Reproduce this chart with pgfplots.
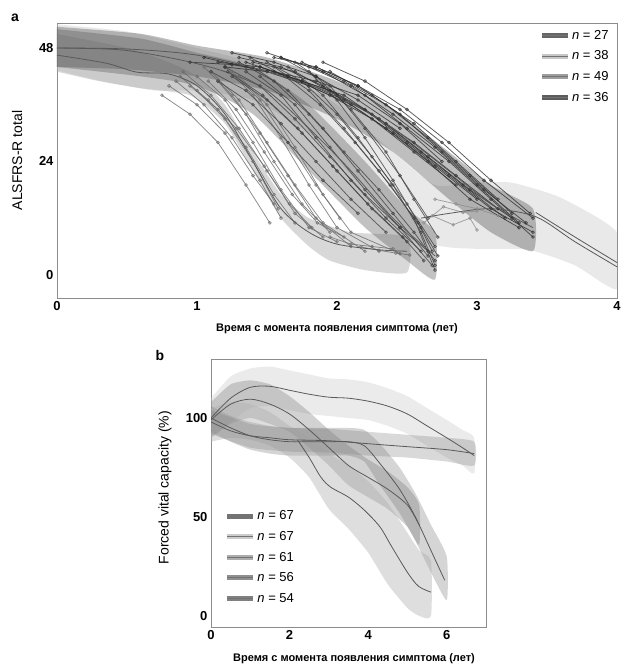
\documentclass[border=0pt]{standalone}
\usepackage{fontspec}
\setmainfont{Liberation Sans}
\usepackage{pgfplots}
\pgfplotsset{compat=1.18}

% group tones (grey scan)
\definecolor{g27}{gray}{0.40}
\definecolor{g38}{gray}{0.78}
\definecolor{g49}{gray}{0.62}
\definecolor{g36}{gray}{0.36}
\definecolor{t27}{gray}{0.25}
\definecolor{t49}{gray}{0.42}
\definecolor{t36}{gray}{0.18}
\definecolor{b67a}{gray}{0.45}
\definecolor{b67b}{gray}{0.80}
\definecolor{b61}{gray}{0.68}
\definecolor{b56}{gray}{0.56}
\definecolor{b54}{gray}{0.50}

\pgfplotsset{
  traj/.style={forget plot, line width=0.75pt, mark=o, mark size=1.4pt, opacity=0.8},
  band/.style={forget plot, draw=none, fill opacity=0.4, smooth, tension=0.35},
  mean/.style={forget plot, smooth, line width=0.8pt, color=black!65},
  panel/.style={
    scale only axis, axis line style={black!45, line width=0.6pt},
    major tick length=0pt, clip=true,
    /pgf/number format/assume math mode=true,
    tick label style={font=\bfseries\fontsize{13}{13}\selectfont},
    label style={font=\fontsize{14}{14}\selectfont},
    legend cell align=left,
    legend image code/.code={
      \draw[##1, line width=5pt] (0pt,0pt) -- (26pt,0pt);
      \draw[black!55, line width=0.6pt] (0pt,0pt) -- (26pt,0pt);},
  },
}

\begin{document}
\begin{tikzpicture}[x=1pt,y=1pt]
\useasboundingbox (0,0) rectangle (624,665);

% ---------------- panel a ----------------
\begin{axis}[panel,
  at={(57pt,367pt)}, anchor=south west,
  width=560pt, height=275pt,
  xmin=0, xmax=4, ymin=-4.9, ymax=53.3,
  xtick={0,1,2,3,4}, ytick={0,24,48},
  ylabel={ALSFRS-R total},
  ylabel style={at={(axis description cs:-0.071,0.5)}, anchor=center},
  xlabel={\bfseries\fontsize{11}{11}\selectfont Время с момента появления симптома (лет)},
  xlabel style={at={(axis description cs:0.5,-0.08)}, anchor=north},
  legend style={at={(0.988,0.98)}, anchor=north east, draw=none, fill=none,
    font=\fontsize{13}{13}\selectfont, row sep=7pt, inner sep=0pt,
    nodes={inner sep=1.5pt}},
]
% bands
\addplot[band, fill=g38] coordinates {(0,53)(0.5,51.5)(1.0,48)(1.5,44)(2.0,36)(2.4,26)(2.7,19)(3.0,19.5)(3.25,19.5)(3.6,16.3)(4.0,9)
  (4.0,-3)(3.7,2)(3.37,5.3)(3.0,5.5)(2.78,5.9)(2.5,8)(2.2,18)(1.8,30)(1.4,37)(1.0,39)(0.7,39)(0.35,40.8)(0,43.3)} -- cycle;
\addplot[band, fill=g49] coordinates {(0,51)(0.5,48)(0.8,45)(1.0,42)(1.2,36)(1.4,26)(1.6,17)(1.8,12)(2.1,9)(2.5,8)
  (2.5,0.5)(2.2,1)(1.95,3)(1.8,6)(1.6,12)(1.4,22)(1.2,32)(0.95,38)(0.6,39.5)(0.3,41)(0,43)} -- cycle;
\addplot[band, fill=g27] coordinates {(0,52)(0.6,50)(1.0,47)(1.4,44)(1.8,36)(2.2,24)(2.5,14)(2.7,9)
  (2.7,-1)(2.5,3)(2.2,10)(1.8,22)(1.4,34)(1.0,40)(0.6,42)(0,44)} -- cycle;
\addplot[band, fill=g36] coordinates {(0,52.5)(0.6,51)(1.0,48.5)(1.5,46)(2.0,41)(2.4,35)(2.8,26)(3.1,19)(3.4,14)
  (3.4,5)(3.1,9)(2.8,16)(2.4,26)(2.0,33)(1.5,39)(1.0,42)(0.5,43.5)(0,44)} -- cycle;

% individual trajectories, fast group (n = 49)
\addplot[traj, color=t49] coordinates {(0.75,38)(0.95,34)(1.15,28)(1.35,19)(1.52,11)};
\addplot[traj, color=t49] coordinates {(0.85,41)(1.05,36)(1.25,29)(1.45,20)(1.6,12)};
\addplot[traj, color=t49] coordinates {(0.9,43)(1.1,38)(1.3,31)(1.5,22)(1.7,13)(1.9,8)};
\addplot[traj, color=t49] coordinates {(1.0,42)(1.2,37)(1.4,28)(1.6,18)(1.8,10)(2.0,7)};
\addplot[traj, color=t49] coordinates {(0.8,40)(1.0,36)(1.2,30)(1.4,21)(1.55,15)};
\addplot[traj, color=t49] coordinates {(1.05,44)(1.25,38)(1.45,30)(1.65,21)(1.85,12)(2.1,6)};
\addplot[traj, color=t49] coordinates {(0.95,40)(1.15,35)(1.35,27)(1.55,17)(1.7,11)};
\addplot[traj, color=t49] coordinates {(1.1,43)(1.3,37)(1.5,28)(1.7,19)(1.9,11)(2.2,5)};
\addplot[traj, color=t49] coordinates {(1.2,44)(1.4,38)(1.6,29)(1.8,19)(2.0,10)(2.3,5)};
\addplot[traj, color=t49] coordinates {(1.0,39)(1.2,33)(1.4,24)(1.58,14)};
\addplot[traj, color=t49] coordinates {(1.3,42)(1.5,36)(1.7,27)(1.9,17)(2.1,9)(2.45,4.5)};
\addplot[traj, color=t49] coordinates {(1.15,41)(1.35,34)(1.55,24)(1.75,15)(1.95,9)};
\addplot[traj, color=t49] coordinates {(0.88,42)(1.08,37)(1.28,31)(1.48,23)(1.66,15)(1.82,10)};
\addplot[traj, color=t49] coordinates {(1.08,41)(1.28,35)(1.48,26)(1.68,17)(1.86,11)(2.05,8)};
\addplot[traj, color=t49] coordinates {(1.25,43)(1.45,37)(1.65,28)(1.85,19)(2.02,12)};
\addplot[traj, color=t49] coordinates {(2.17,5.9)(2.3,5.2)(2.42,4.6)(2.52,4.2)};
\addplot[traj, color=t49] coordinates {(1.95,8)(2.1,6.5)(2.25,6)(2.4,5.5)};

% group n = 27
\addplot[traj, color=t27] coordinates {(1.1,43)(1.35,39)(1.6,32)(1.85,24)(2.1,16)(2.35,9)};
\addplot[traj, color=t27] coordinates {(1.2,44)(1.45,40)(1.7,33)(1.95,25)(2.2,17)(2.45,10)(2.65,5)};
\addplot[traj, color=t27] coordinates {(1.3,45)(1.55,41)(1.8,34)(2.05,26)(2.3,18)(2.55,9)(2.7,3)};
\addplot[traj, color=t27] coordinates {(1.4,44)(1.65,39)(1.9,31)(2.15,22)(2.4,13)(2.65,4)};
\addplot[traj, color=t27] coordinates {(1.25,42)(1.5,37)(1.75,30)(2.0,22)(2.25,14)(2.5,7)};
\addplot[traj, color=t27] coordinates {(1.5,45)(1.75,41)(2.0,34)(2.25,25)(2.5,15)(2.7,6)};
\addplot[traj, color=t27] coordinates {(1.35,43)(1.6,38)(1.85,29)(2.1,20)(2.35,12)(2.6,5)};
\addplot[traj, color=t27] coordinates {(1.6,46)(1.85,42)(2.1,35)(2.35,26)(2.55,16)(2.72,8)};
\addplot[traj, color=t27] coordinates {(1.15,41)(1.4,36)(1.65,28)(1.9,20)(2.15,13)};
\addplot[traj, color=t27] coordinates {(1.45,42)(1.7,36)(1.95,27)(2.2,18)(2.45,10)(2.68,2)};
\addplot[traj, color=t27] coordinates {(1.55,44)(1.8,39)(2.05,31)(2.3,22)(2.55,12)(2.7,1)};
\addplot[traj, color=t27] coordinates {(1.7,45)(1.95,40)(2.2,31)(2.45,21)(2.65,12)};
\addplot[traj, color=t27] coordinates {(1.22,43)(1.47,38)(1.72,31)(1.97,23)(2.22,15)(2.47,8)(2.62,3)};
\addplot[traj, color=t27] coordinates {(1.38,46)(1.63,42)(1.88,36)(2.13,28)(2.38,19)(2.6,10)(2.72,4)};
\addplot[traj, color=t27] coordinates {(1.65,44)(1.9,38)(2.15,29)(2.4,19)(2.6,9)(2.7,2)};
\addplot[traj, color=t27] coordinates {(1.8,43)(2.0,37)(2.2,29)(2.4,20)(2.58,11)(2.68,5)};

% group n = 36
\addplot[traj, color=t36] coordinates {(1.3,46)(1.6,44)(1.9,40)(2.2,35)(2.5,28)(2.8,21)(3.1,14)(3.4,9)};
\addplot[traj, color=t36] coordinates {(1.4,45)(1.7,43)(2.0,38)(2.3,33)(2.6,26)(2.9,19)(3.2,12)};
\addplot[traj, color=t36] coordinates {(1.5,47)(1.8,44)(2.1,40)(2.4,34)(2.7,27)(3.0,19)(3.3,11)};
\addplot[traj, color=t36] coordinates {(1.2,44)(1.5,43)(1.8,40)(2.1,36)(2.4,30)(2.7,23)(3.0,16)};
\addplot[traj, color=t36] coordinates {(1.6,46)(1.9,43)(2.2,38)(2.5,31)(2.8,24)(3.1,16)(3.4,8)};
\addplot[traj, color=t36] coordinates {(1.35,45)(1.65,42)(1.95,38)(2.25,33)(2.55,26)(2.85,19)};
\addplot[traj, color=t36] coordinates {(1.75,45)(2.05,41)(2.35,36)(2.65,29)(2.95,21)(3.25,13)};
\addplot[traj, color=t36] coordinates {(1.45,44)(1.75,41)(2.05,37)(2.35,31)(2.65,24)(2.95,16)(3.3,10)};
\addplot[traj, color=t36] coordinates {(1.85,44)(2.15,40)(2.45,34)(2.75,26)(3.05,18)(3.35,11)};
\addplot[traj, color=t36] coordinates {(1.55,46)(1.85,44)(2.15,40)(2.45,35)(2.75,28)(3.05,20)(3.4,12)};
\addplot[traj, color=t36] coordinates {(1.25,47)(1.55,45)(1.85,42)(2.15,37)(2.45,31)};
\addplot[traj, color=t36] coordinates {(1.95,43)(2.25,38)(2.55,32)(2.85,24)(3.15,16)};
\addplot[traj, color=t36] coordinates {(1.05,46)(1.35,44)(1.65,42)(1.95,39)(2.25,34)(2.55,28)(2.85,21)(3.15,14)};
\addplot[traj, color=t36] coordinates {(1.15,45)(1.45,44)(1.75,41)(2.05,38)(2.35,32)(2.65,25)(2.95,18)(3.25,12)};
\addplot[traj, color=t36] coordinates {(1.9,45)(2.2,41)(2.5,35)(2.8,28)(3.1,20)(3.38,13)};
\addplot[traj, color=t36] coordinates {(0.95,45)(1.25,44.5)(1.55,43)(1.85,41)(2.15,38)(2.45,32)(2.75,24)};

% group n = 38
\addplot[traj, color=g38!70!black] coordinates {(2.62,11)(2.76,14.4)(2.9,13.2)(3.0,13.5)};
\addplot[traj, color=g38!70!black] coordinates {(2.68,12.5)(2.83,10.6)(2.95,12)(3.0,9.5)};
\addplot[traj, color=g38!70!black] coordinates {(2.7,16)(2.85,15)(3.0,14)(3.15,12.5)};

% mean curves
\addplot[mean] coordinates {(0,46.5)(0.35,44.8)(0.57,42.9)(0.8,42.5)(1.0,40)(1.2,34)(1.4,24)(1.6,14)(1.8,9)(2.0,6.5)(2.3,5.3)(2.5,5)};
\addplot[mean] coordinates {(0,48)(0.46,47.6)(0.88,45.5)(1.2,43)(1.5,39)(1.8,31)(2.1,22)(2.4,12)(2.7,4)};
\addplot[mean] coordinates {(0,48)(0.5,47.8)(1.0,46.5)(1.5,43)(2.0,38)(2.4,31)(2.8,22)(3.1,15)(3.4,10)};
\addplot[mean] coordinates {(2.6,12)(2.8,13)(3.1,14)(3.42,12.3)(3.7,7)(4.0,1.7)};
\addplot[mean] coordinates {(3.42,13.2)(3.7,8)(4.0,2.6)};

\addlegendimage{draw=g27}\addlegendentry{\textit{n} = 27}
\addlegendimage{draw=g38}\addlegendentry{\textit{n} = 38}
\addlegendimage{draw=g49}\addlegendentry{\textit{n} = 49}
\addlegendimage{draw=g36}\addlegendentry{\textit{n} = 36}
\end{axis}

% ---------------- panel b ----------------
\begin{axis}[panel,
  at={(211pt,38pt)}, anchor=south west,
  width=275pt, height=268pt,
  xmin=0, xmax=7, ymin=-5.6, ymax=129.8,
  xtick={0,2,4,6}, ytick={0,50,100},
  ylabel={Forced vital capacity (\%)},
  ylabel style={at={(axis description cs:-0.167,0.52)}, anchor=center},
  xlabel={\bfseries\fontsize{11}{11}\selectfont Время с момента появления симптома (лет)},
  xlabel style={at={(axis description cs:0.52,-0.086)}, anchor=north},
  legend style={at={(0.05,0.44)}, anchor=north west, draw=none, fill=none,
    font=\fontsize{13}{13}\selectfont, row sep=7pt, inner sep=0pt,
    nodes={inner sep=1.5pt}},
]
\addplot[band, fill=b67b] coordinates {(0,110)(0.5,121)(1,125)(1.5,126)(2,124)(2.5,122)(3,120)(3.5,119.5)(4,118)(4.5,115)(5,111)(5.5,105)(6,99)(6.4,94)(6.7,90)
  (6.7,72)(6.4,76)(6,80)(5.5,86)(5,92)(4.5,96)(4,99)(3.5,100)(3,101)(2.5,102)(2,104)(1.5,106)(1,105)(0.5,98)(0,90)} -- cycle;
\addplot[band, fill=b56] coordinates {(0,108)(0.5,117)(1,119)(1.5,117)(2,111)(2.5,103)(3,94)(3.5,86)(4,79)(4.5,73)(5,65)(5.3,56)
  (5.3,36)(5,45)(4.5,54)(4,60)(3.5,66)(3,76)(2.5,85)(2,93)(1.5,97)(1,100)(0.5,97)(0,90)} -- cycle;
\addplot[band, fill=b67a, fill opacity=0.3] coordinates {(0,106)(0.5,101)(1,98)(1.5,96)(2,95)(3,95)(3.5,95)(3.9,94)(4.3,87)(4.8,75)(5.2,62)(5.6,46)(6,30)
  (6,8)(5.6,22)(5.2,38)(4.8,52)(4.3,66)(3.9,78)(3.5,81)(3,81)(2,81)(1.5,82)(1,84)(0.5,88)(0,93)} -- cycle;
\addplot[band, fill=b61] coordinates {(0,105)(0.5,108)(1,107)(1.5,103)(2,96)(2.5,90)(3,82)(3.5,76)(4,68)(4.5,57)(5,42)(5.3,33)(5.6,28)
  (5.6,0)(5.3,0)(5,4)(4.5,16)(4,32)(3.5,44)(3,54)(2.5,70)(2,80)(1.5,86)(1,89)(0.5,90)(0,88)} -- cycle;
\addplot[band, fill=b54, fill opacity=0.3] coordinates {(0,104)(1,97)(2,95)(3,94.5)(4,93)(5,91.5)(6,90)(6.7,88)
  (6.7,76)(6,78)(5,80)(4,81)(3,82.5)(2,83)(1,85)(0,92)} -- cycle;

\addplot[mean] coordinates {(0,100)(0.5,110)(1.0,115.5)(1.5,116)(2.0,114)(2.5,112)(3.0,110.5)(3.5,110)(4.0,108.5)(4.5,106)(5.0,102)(5.5,96)(6.0,90)(6.4,85)(6.7,81)};
\addplot[mean] coordinates {(0,99)(0.5,107)(1.0,109.5)(1.5,107)(2.0,102)(2.5,94)(3.0,85)(3.5,76)(4.0,70)(4.5,64)(5.0,56)(5.3,46)};
\addplot[mean] coordinates {(0,100)(0.5,95)(1.0,91)(1.5,89)(2.0,88)(2.5,88)(3.0,88)(3.5,88)(3.9,86)(4.3,77)(4.8,64)(5.2,50)(5.6,33)(5.95,18)};
\addplot[mean] coordinates {(2.2,89)(2.5,80)(2.8,70)(3.05,65)(3.5,60)(3.9,53.5)(4.3,45)(4.6,35)(5.0,22)(5.28,15)(5.6,12)};
\addplot[mean] coordinates {(0,98)(0.5,93.5)(1.0,91)(1.5,90)(2.0,89)(3.0,88.5)(4.0,87)(5.0,85.5)(6.0,84)(6.7,82)};

\addlegendimage{draw=b67a}\addlegendentry{\textit{n} = 67}
\addlegendimage{draw=b67b}\addlegendentry{\textit{n} = 67}
\addlegendimage{draw=b61}\addlegendentry{\textit{n} = 61}
\addlegendimage{draw=b56}\addlegendentry{\textit{n} = 56}
\addlegendimage{draw=b54}\addlegendentry{\textit{n} = 54}
\end{axis}

\node[font=\bfseries\fontsize{14}{14}\selectfont] at (15,647) {a};
\node[font=\bfseries\fontsize{14}{14}\selectfont] at (160,310) {b};
\end{tikzpicture}
\end{document}
